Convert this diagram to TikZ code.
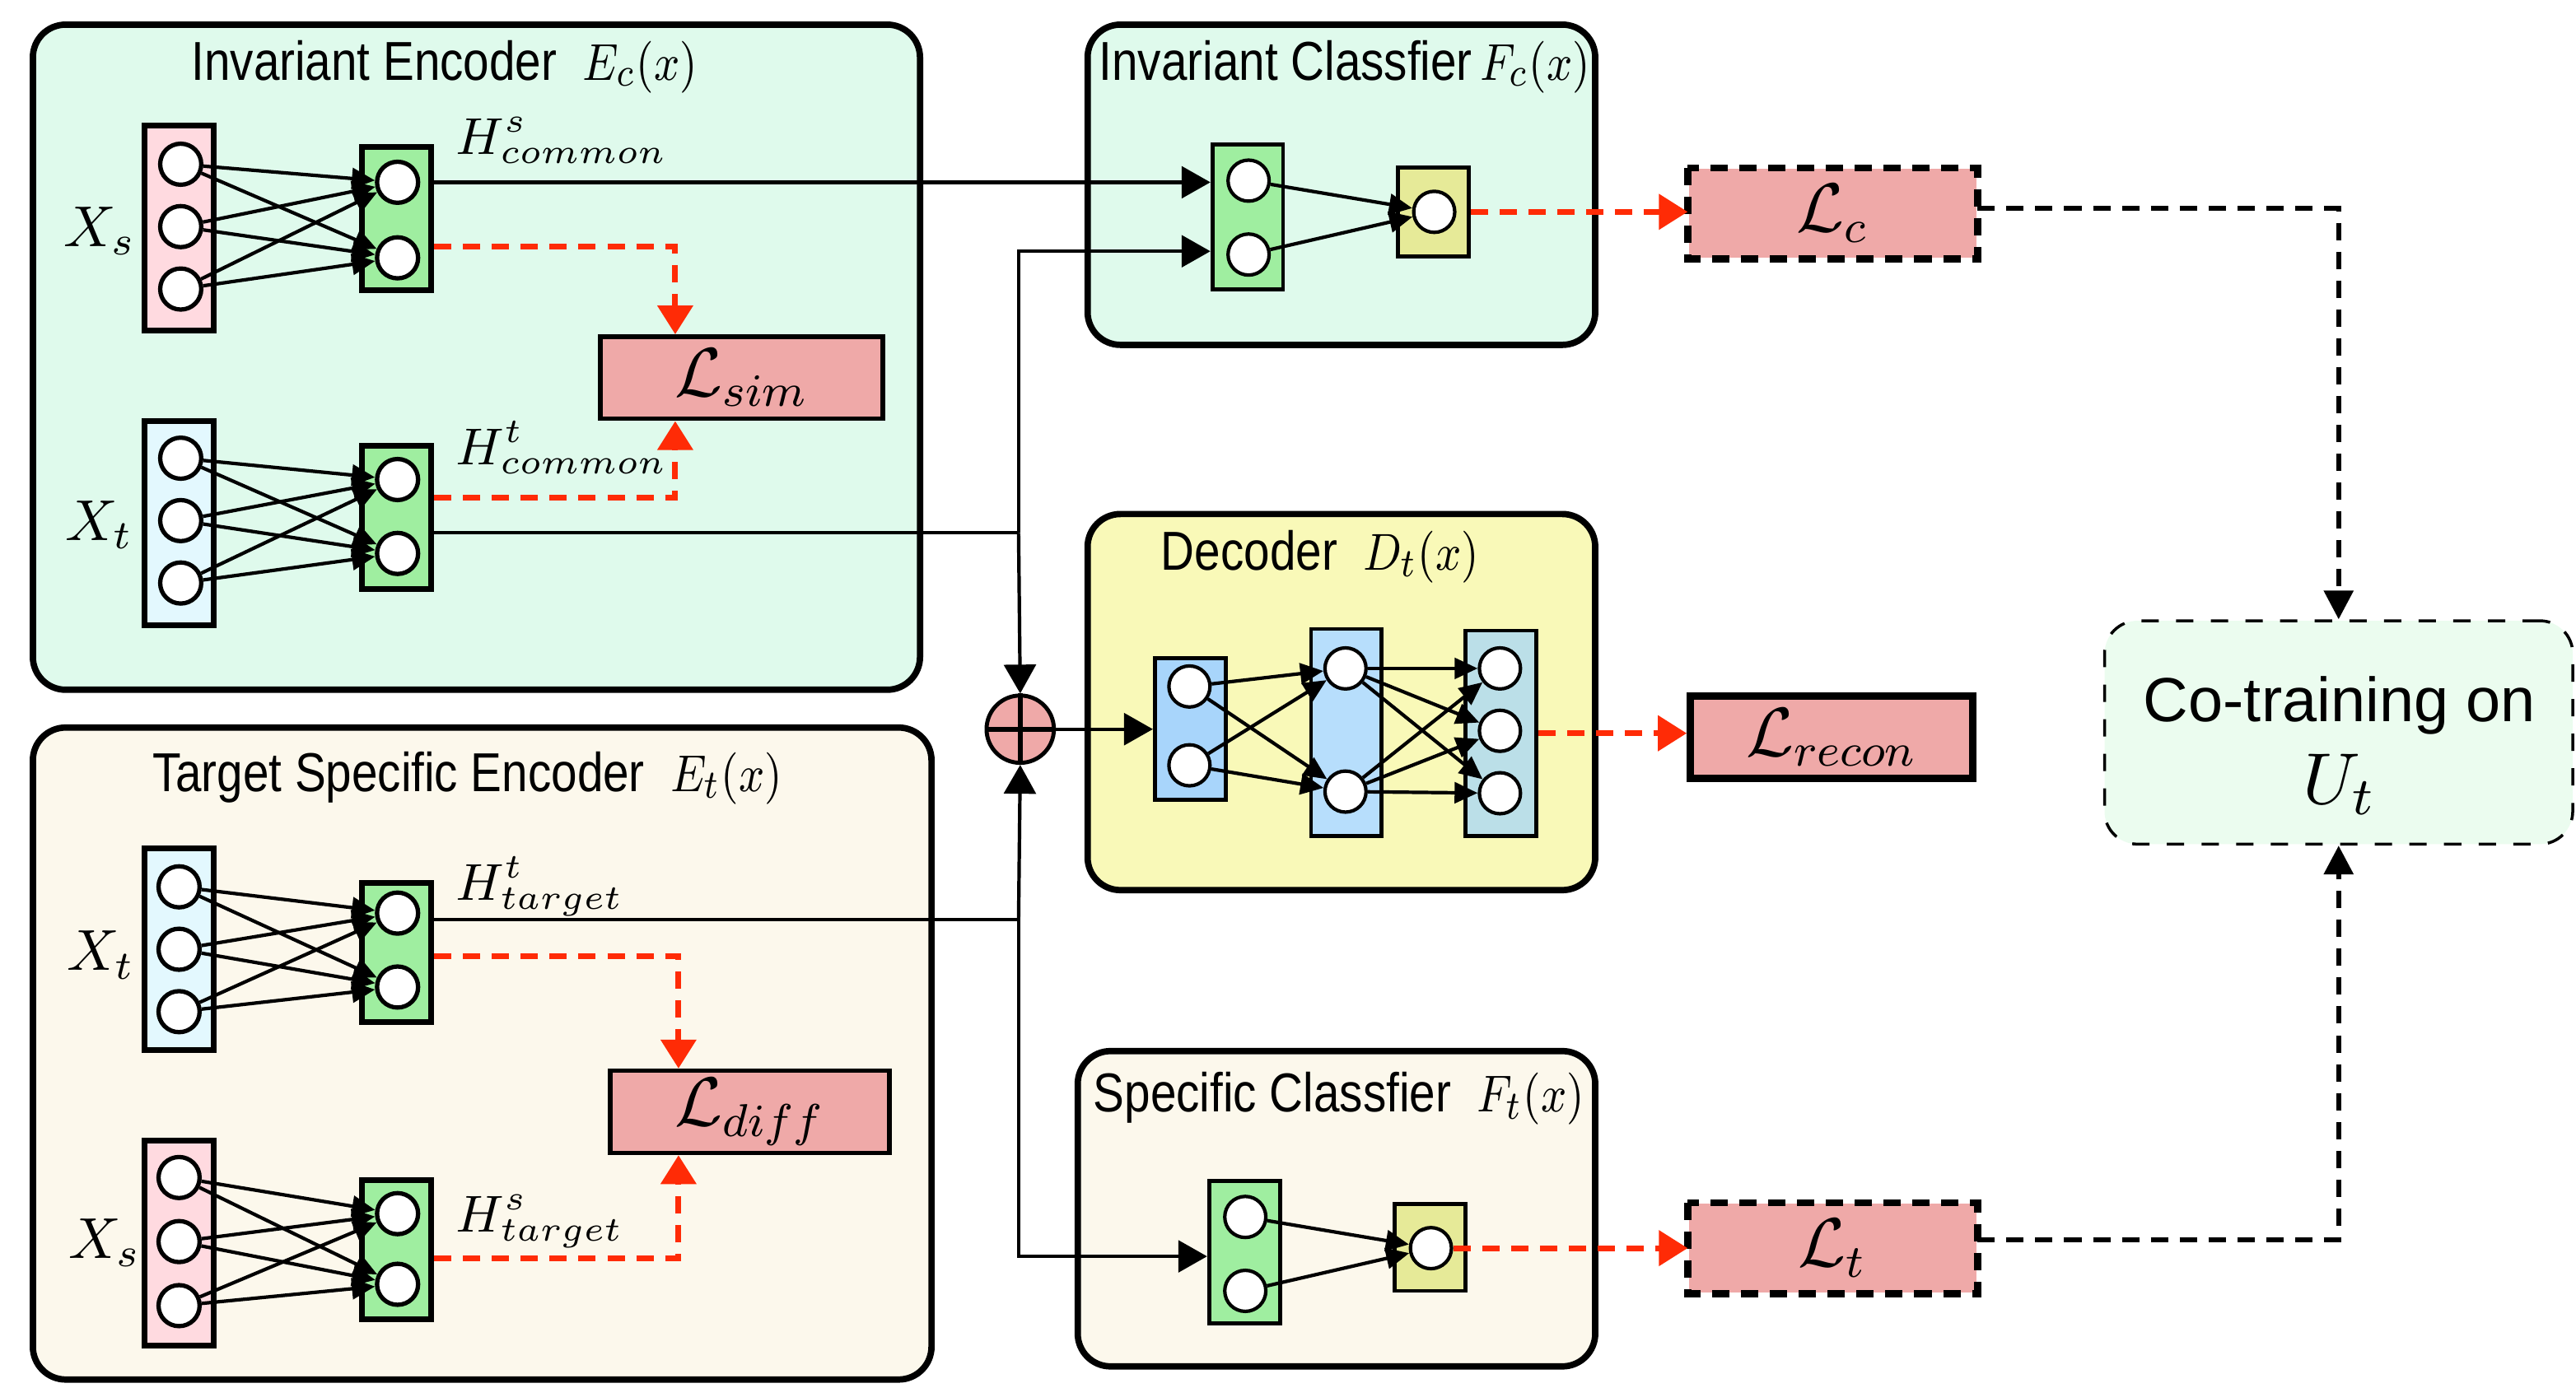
\documentclass[tikz,border=0pt]{standalone}
\usepackage{fontspec}
\setsansfont{Liberation Sans}
\usepackage{graphicx}
\usetikzlibrary{arrows.meta}

\definecolor{encfill}{HTML}{DFFAEC}
\definecolor{tgtencfill}{HTML}{FCF8EC}
\definecolor{decfill}{HTML}{F9F9B8}
\definecolor{srcfill}{HTML}{FFDAE0}
\definecolor{tgtfill}{HTML}{E3F8FE}
\definecolor{hidfill}{HTML}{9FEEA0}
\definecolor{outfill}{HTML}{E6EA98}
\definecolor{lossred}{HTML}{EFA9A8}
\definecolor{dlone}{HTML}{A8D5FB}
\definecolor{dltwo}{HTML}{B7DEFC}
\definecolor{dlthree}{HTML}{BBDFE8}
\definecolor{cofill}{HTML}{EBFCEF}
\definecolor{redline}{HTML}{FF2B06}

\newcommand{\narrowtxt}[1]{\scalebox{0.85}[1]{#1}}

\begin{document}
\begin{tikzpicture}[x=1cm, y=-1cm,
		bigbox/.style={draw, line width = 1.1pt, rounded corners=0.2cm, inner sep=0},
		layer/.style={draw, line width = 1pt, minimum width=0.42cm, inner sep=0},
		thinlayer/.style={draw, line width = 0.7pt, minimum width=0.43cm, inner sep=0},
		neuron/.style={circle, draw, fill=white, line width = 0.75pt, minimum size=0.25cm, inner sep=0},
		lossbox/.style={draw, fill=lossred, minimum width=1.72cm, minimum height=0.5cm, inner sep=0, font=\fontsize{11.5}{13}\selectfont},
		ttl/.style={anchor=base, inner sep=0, font=\fontsize{9.5}{11}\selectfont\sffamily},
		hlbl/.style={anchor=base west, inner sep=0, font=\fontsize{8.9}{10}\selectfont},
		xlbl/.style={anchor=base west, inner sep=0, font=\fontsize{10}{12}\selectfont},
		netarr/.style={line width = 0.6pt, -{Triangle[length=4pt,width=3.6pt]}},
		feedarr/.style={line width = 0.6pt, -{Triangle[length=5pt,width=5.5pt]}},
		redarr/.style={draw=redline, line width = 1pt, dash pattern=on 3pt off 2pt, -{Triangle[length=5pt,width=6pt]}},
		cotarr/.style={line width = 0.9pt, dash pattern=on 3pt off 2pt, -{Triangle[length=5pt,width=5pt]}}]
		
		\useasboundingbox (0,0) rectangle (15.68,8.4516);
		
		% containers
		\node[bigbox, fill=encfill, minimum width=5.40cm, minimum height=4.05cm] (encC) at (2.90,2.175) {};
		\node[bigbox, fill=tgtencfill, minimum width=5.47cm, minimum height=3.97cm] (encT) at (2.935,6.415) {};
		\node[bigbox, fill=encfill, minimum width=3.09cm, minimum height=1.95cm] (clsC) at (8.165,1.125) {};
		\node[bigbox, fill=decfill, minimum width=3.09cm, minimum height=2.29cm] (dec) at (8.165,4.275) {};
		\node[bigbox, fill=tgtencfill, minimum width=3.15cm, minimum height=1.92cm] (clsT) at (8.135,7.36) {};
		\node[draw, fill=cofill, line width = 0.5pt, dashed, rounded corners=0.2cm, minimum width=2.85cm, minimum height=1.36cm] (cotrain) at (14.235,4.46) {};
		
		\node[ttl] (ttlEncC) at (2.705,0.49) {\narrowtxt{Invariant Encoder\ \ $E_c(x)$}};
		\node[ttl] (ttlEncT) at (2.845,4.82) {\narrowtxt{Target Specific Encoder\ \ $E_t(x)$}};
		\node[ttl] (ttlClsC) at (8.185,0.49) {\narrowtxt{Invariant Classfier\,$F_c(x)$}};
		\node[ttl] (ttlDec) at (8.035,3.47) {\narrowtxt{Decoder\ \ $D_t(x)$}};
		\node[ttl] (ttlClsT) at (8.15,6.77) {\narrowtxt{Specific Classfier\ \ $F_t(x)$}};
		\node[align=center, font=\fontsize{10.8}{14.2}\selectfont\sffamily] (cotext) at (14.24,4.54) {Co-training on\\\scalebox{1.15}{$U_t$}};
		
		% invariant encoder
		\node[layer, fill=srcfill, minimum height=1.25cm] (xsC) at (1.09,1.39) {};
		\node[neuron] (xsC1) at (1.10,1.00) {};
		\node[neuron] (xsC2) at (1.10,1.38) {};
		\node[neuron] (xsC3) at (1.10,1.76) {};
		\node[layer, fill=hidfill, minimum height=0.87cm] (hsC) at (2.415,1.33) {};
		\node[neuron] (hsC1) at (2.42,1.11) {};
		\node[neuron] (hsC2) at (2.42,1.57) {};
		
		\node[layer, fill=tgtfill, minimum height=1.24cm] (xtC) at (1.09,3.185) {};
		\node[neuron] (xtC1) at (1.10,2.79) {};
		\node[neuron] (xtC2) at (1.10,3.17) {};
		\node[neuron] (xtC3) at (1.10,3.55) {};
		\node[layer, fill=hidfill, minimum height=0.87cm] (htC) at (2.415,3.15) {};
		\node[neuron] (htC1) at (2.42,2.92) {};
		\node[neuron] (htC2) at (2.42,3.37) {};
		
		\node[xlbl] (lblXsC) at (0.38,1.50) {$X_s$};
		\node[xlbl] (lblXtC) at (0.39,3.29) {$X_t$};
		\node[hlbl] (lblHsC) at (2.77,0.94) {$H^{s}_{common}$};
		\node[hlbl] (lblHtC) at (2.77,2.83) {$H^{t}_{common}$};
		\node[lossbox, line width = 0.8pt, minimum width=1.72cm] (Lsim) at (4.515,2.30) {$\mathcal{L}_{sim}$};
		
		\draw[netarr] (xsC1) -- (hsC1); \draw[netarr] (xsC1) -- (hsC2);
		\draw[netarr] (xsC2) -- (hsC1); \draw[netarr] (xsC2) -- (hsC2);
		\draw[netarr] (xsC3) -- (hsC1); \draw[netarr] (xsC3) -- (hsC2);
		\draw[netarr] (xtC1) -- (htC1); \draw[netarr] (xtC1) -- (htC2);
		\draw[netarr] (xtC2) -- (htC1); \draw[netarr] (xtC2) -- (htC2);
		\draw[netarr] (xtC3) -- (htC1); \draw[netarr] (xtC3) -- (htC2);
		
		\draw[redarr] ([yshift=-0.17cm]hsC.east) -| ([xshift=-0.405cm]Lsim.north);
		\draw[redarr] ([yshift=0.12cm]htC.east) -| ([xshift=-0.405cm]Lsim.south);
		
		% target specific encoder
		\node[layer, fill=tgtfill, minimum height=1.23cm] (xtT) at (1.09,5.78) {};
		\node[neuron] (xtT1) at (1.09,5.40) {};
		\node[neuron] (xtT2) at (1.09,5.78) {};
		\node[neuron] (xtT3) at (1.09,6.16) {};
		\node[layer, fill=hidfill, minimum height=0.85cm] (htT) at (2.415,5.80) {};
		\node[neuron] (htT1) at (2.42,5.56) {};
		\node[neuron] (htT2) at (2.42,6.01) {};
		
		\node[layer, fill=srcfill, minimum height=1.25cm] (xsT) at (1.09,7.57) {};
		\node[neuron] (xsT1) at (1.09,7.17) {};
		\node[neuron] (xsT2) at (1.09,7.56) {};
		\node[neuron] (xsT3) at (1.09,7.95) {};
		\node[layer, fill=hidfill, minimum height=0.85cm] (hsT) at (2.415,7.61) {};
		\node[neuron] (hsT1) at (2.42,7.39) {};
		\node[neuron] (hsT2) at (2.42,7.82) {};
		
		\node[xlbl] (lblXtT) at (0.40,5.91) {$X_t$};
		\node[xlbl] (lblXsT) at (0.41,7.66) {$X_s$};
		\node[hlbl] (lblHtT) at (2.77,5.48) {$H^{t}_{target}$};
		\node[hlbl] (lblHsT) at (2.77,7.50) {$H^{s}_{target}$};
		\node[lossbox, line width = 0.8pt, minimum width=1.70cm] (Ldiff) at (4.565,6.77) {$\mathcal{L}_{diff}$};
		
		\draw[netarr] (xtT1) -- (htT1); \draw[netarr] (xtT1) -- (htT2);
		\draw[netarr] (xtT2) -- (htT1); \draw[netarr] (xtT2) -- (htT2);
		\draw[netarr] (xtT3) -- (htT1); \draw[netarr] (xtT3) -- (htT2);
		\draw[netarr] (xsT1) -- (hsT1); \draw[netarr] (xsT1) -- (hsT2);
		\draw[netarr] (xsT2) -- (hsT1); \draw[netarr] (xsT2) -- (hsT2);
		\draw[netarr] (xsT3) -- (hsT1); \draw[netarr] (xsT3) -- (hsT2);
		
		\draw[redarr] ([yshift=-0.02cm]htT.east) -| ([xshift=-0.435cm]Ldiff.north);
		\draw[redarr] ([yshift=-0.05cm]hsT.east) -| ([xshift=-0.435cm]Ldiff.south);
		
		% invariant classifier
		\node[thinlayer, fill=hidfill, minimum height=0.88cm] (clsCh) at (7.595,1.32) {};
		\node[neuron, line width = 0.6pt] (clsCh1) at (7.60,1.10) {};
		\node[neuron, line width = 0.6pt] (clsCh2) at (7.60,1.55) {};
		\node[thinlayer, fill=outfill, minimum height=0.54cm] (clsCo) at (8.725,1.29) {};
		\node[neuron, line width = 0.6pt] (clsCo1) at (8.73,1.29) {};
		\draw[netarr] (clsCh1) -- (clsCo1);
		\draw[netarr] (clsCh2) -- (clsCo1);
		
		% decoder
		\node[thinlayer, fill=dlone, minimum height=0.86cm] (dl1) at (7.245,4.44) {};
		\node[neuron, line width = 0.6pt] (dl11) at (7.24,4.18) {};
		\node[neuron, line width = 0.6pt] (dl12) at (7.24,4.66) {};
		\node[thinlayer, fill=dltwo, minimum height=1.26cm] (dl2) at (8.195,4.46) {};
		\node[neuron, line width = 0.6pt] (dl21) at (8.19,4.07) {};
		\node[neuron, line width = 0.6pt] (dl22) at (8.19,4.82) {};
		\node[thinlayer, fill=dlthree, minimum height=1.25cm] (dl3) at (9.135,4.465) {};
		\node[neuron, line width = 0.6pt] (dl31) at (9.13,4.07) {};
		\node[neuron, line width = 0.6pt] (dl32) at (9.13,4.45) {};
		\node[neuron, line width = 0.6pt] (dl33) at (9.13,4.83) {};
		
		\draw[netarr] (dl11) -- (dl21); \draw[netarr] (dl11) -- (dl22);
		\draw[netarr] (dl12) -- (dl21); \draw[netarr] (dl12) -- (dl22);
		\draw[netarr] (dl21) -- (dl31); \draw[netarr] (dl21) -- (dl32); \draw[netarr] (dl21) -- (dl33);
		\draw[netarr] (dl22) -- (dl31); \draw[netarr] (dl22) -- (dl32); \draw[netarr] (dl22) -- (dl33);
		
		% specific classifier
		\node[thinlayer, fill=hidfill, minimum height=0.87cm] (clsTh) at (7.575,7.625) {};
		\node[neuron, line width = 0.6pt] (clsTh1) at (7.58,7.41) {};
		\node[neuron, line width = 0.6pt] (clsTh2) at (7.58,7.86) {};
		\node[thinlayer, fill=outfill, minimum height=0.53cm] (clsTo) at (8.705,7.595) {};
		\node[neuron, line width = 0.6pt] (clsTo1) at (8.71,7.60) {};
		\draw[netarr] (clsTh1) -- (clsTo1);
		\draw[netarr] (clsTh2) -- (clsTo1);
		
		% merge
		\node[circle, draw, fill=lossred, line width = 0.7pt, minimum size=0.41cm, inner sep=0] (plus) at (6.21,4.44) {};
		\draw[line width = 0.9pt] (plus.north) -- (plus.south);
		\draw[line width = 0.9pt] (plus.west) -- (plus.east);
		
		\coordinate (jtop) at (6.20,1.53);
		\coordinate (jmid) at (6.20,3.245);
		\coordinate (jlow) at (6.20,5.60);
		\coordinate (jbot) at (6.20,7.65);
		
		\draw[feedarr] (hsC.east |- hsC1) -- (clsCh.west |- hsC1);
		\draw[line width = 0.6pt] (htC.east |- jmid) -- (jmid);
		\draw[feedarr] (jmid) -- (jtop) -- (clsCh.west |- jtop);
		\draw[feedarr] (jmid) -- (plus.north);
		\draw[line width = 0.6pt] (htT.east |- jlow) -- (jlow);
		\draw[feedarr] (jlow) -- (plus.south);
		\draw[feedarr] (jlow) -- (jbot) -- (clsTh.west |- jbot);
		\draw[feedarr] (plus.east) -- (dl1.west);
		
		% losses
		\node[lossbox, draw=none, minimum width=1.75cm, minimum height=0.54cm] (Lc) at (11.155,1.30) {$\mathcal{L}_{c}$};
		\draw[line width = 1.2pt, dash pattern=on 3pt off 2pt] (Lc.north west) rectangle (Lc.south east);
		\node[lossbox, line width = 1.3pt, minimum width=1.72cm] (Lrecon) at (11.15,4.49) {$\mathcal{L}_{recon}$};
		\node[lossbox, draw=none, minimum width=1.75cm, minimum height=0.54cm] (Lt) at (11.155,7.60) {$\mathcal{L}_{t}$};
		\draw[line width = 1.2pt, dash pattern=on 3pt off 2pt] (Lt.north west) rectangle (Lt.south east);
		
		\draw[redarr] (clsCo.east) -- (Lc.west |- clsCo.east);
		\draw[redarr] (dl3.east) -- (Lrecon.west |- dl3.east);
		\draw[redarr] (clsTo1.east) -- (Lt.west |- clsTo1.east);
		
		\draw[cotarr] ([yshift=0.03cm]Lc.east) -| (cotrain.north);
		\draw[cotarr] ([yshift=0.05cm]Lt.east) -| (cotrain.south);
		
	\end{tikzpicture}
\end{document}
